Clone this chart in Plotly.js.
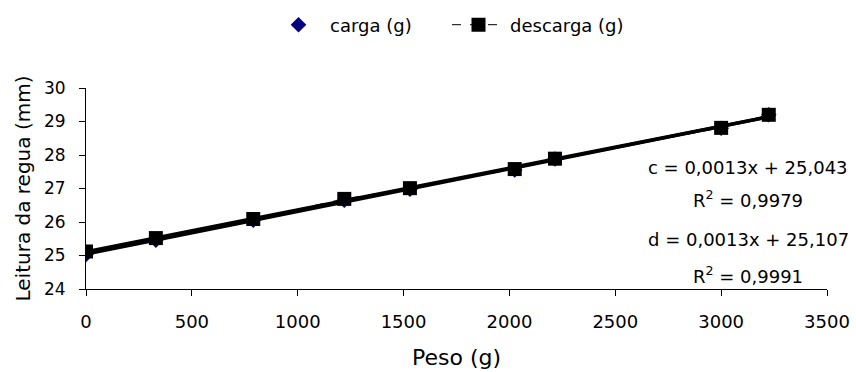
<!DOCTYPE html>
<html>
<head>
<meta charset="utf-8">
<script src="https://cdn.plot.ly/plotly-3.0.1.min.js"></script>
<style>html,body{margin:0;padding:0;background:#fff;}#chart{width:856px;height:372px;}</style>
</head>
<body>
<div id="chart"></div>
<script>
// Data
const peso = [0, 330, 790, 1220, 1530, 2025, 2215, 3000, 3225];
const carga = [25.03, 25.46, 26.05, 26.65, 26.98, 27.55, 27.88, 28.80, 29.20];
const descarga = [25.12, 25.52, 26.09, 26.69, 27.01, 27.58, 27.89, 28.81, 29.20];
const seriesNames = ["carga (g)", "descarga (g)"];
const eqLabels = ["c = 0,0013x + 25,043", "R<sup>2</sup> = 0,9979", "d = 0,0013x + 25,107", "R<sup>2</sup> = 0,9991"];
const xTitle = "Peso (g)";
const yTitle = "Leitura da regua (mm)";

function fit(xs, ys) {
  const n = xs.length;
  let sx = 0, sy = 0, sxx = 0, sxy = 0;
  for (let i = 0; i < n; i++) { sx += xs[i]; sy += ys[i]; sxx += xs[i]*xs[i]; sxy += xs[i]*ys[i]; }
  const m = (n*sxy - sx*sy) / (n*sxx - sx*sx);
  const b = (sy - m*sx) / n;
  const x0 = Math.min(...xs), x1 = Math.max(...xs);
  return {x: [x0, x1], y: [m*x0 + b, m*x1 + b]};
}
const fc = fit(peso, carga), fd = fit(peso, descarga);

const FONT = "DejaVu Sans";
const traces = [
  {x: fc.x, y: fc.y, mode: "lines", line: {color: "#000", width: 3.5}, showlegend: false, hoverinfo: "skip"},
  {x: fd.x, y: fd.y, mode: "lines", line: {color: "#000", width: 3.5}, showlegend: false, hoverinfo: "skip"},
  {x: peso, y: carga, name: seriesNames[0], mode: "markers",
   marker: {symbol: "diamond", color: "#000080", size: 12}},
  {x: peso, y: descarga, name: seriesNames[1], mode: "lines+markers",
   line: {color: "#000", width: 1, dash: "dash"},
   marker: {symbol: "square", color: "#000", size: 14}}
];

const annX = 3127;
const annY = [27.64, 26.70, 25.47, 24.42];
const annotations = eqLabels.map((t, i) => ({
  x: annX, y: annY[i], xref: "x", yref: "y", text: t, showarrow: false,
  font: {family: FONT, size: 18, color: "#000"}, xanchor: "center", yanchor: "middle"
}));

const layout = {
  width: 856, height: 372,
  margin: {l: 86, r: 29, t: 88, b: 83},
  paper_bgcolor: "#fff", plot_bgcolor: "#fff",
  font: {family: FONT, size: 18, color: "#000"},
  showlegend: true,
  legend: {orientation: "h", x: 0, xref: "paper", y: 1 - 25/372, yref: "container",
           xanchor: "left", yanchor: "middle", itemwidth: 53,
           entrywidth: 112, entrywidthmode: "pixels",
           font: {family: FONT, size: 18, color: "#000"}, traceorder: "normal"},
  xaxis: {range: [0, 3500], dtick: 500, tick0: 0, showgrid: false, zeroline: false,
          showline: true, linecolor: "#000", linewidth: 1, ticks: "outside", ticklen: 6,
          tickcolor: "#000", tickfont: {family: FONT, size: 18}, ticklabelstandoff: 10,
          title: {text: xTitle, font: {family: FONT, size: 22}}},
  yaxis: {range: [24, 30], dtick: 1, tick0: 24, showgrid: false, zeroline: false,
          showline: true, linecolor: "#000", linewidth: 1, ticks: "outside", ticklen: 6,
          tickcolor: "#000", tickfont: {family: FONT, size: 17}, ticklabelstandoff: 10,
          title: {text: yTitle, font: {family: FONT, size: 20}, standoff: 7}},
  annotations: annotations
};
layout.legend.x = (267 - 86) / (856 - 86 - 29);
Plotly.newPlot("chart", traces, layout, {staticPlot: true});
</script>
</body>
</html>
